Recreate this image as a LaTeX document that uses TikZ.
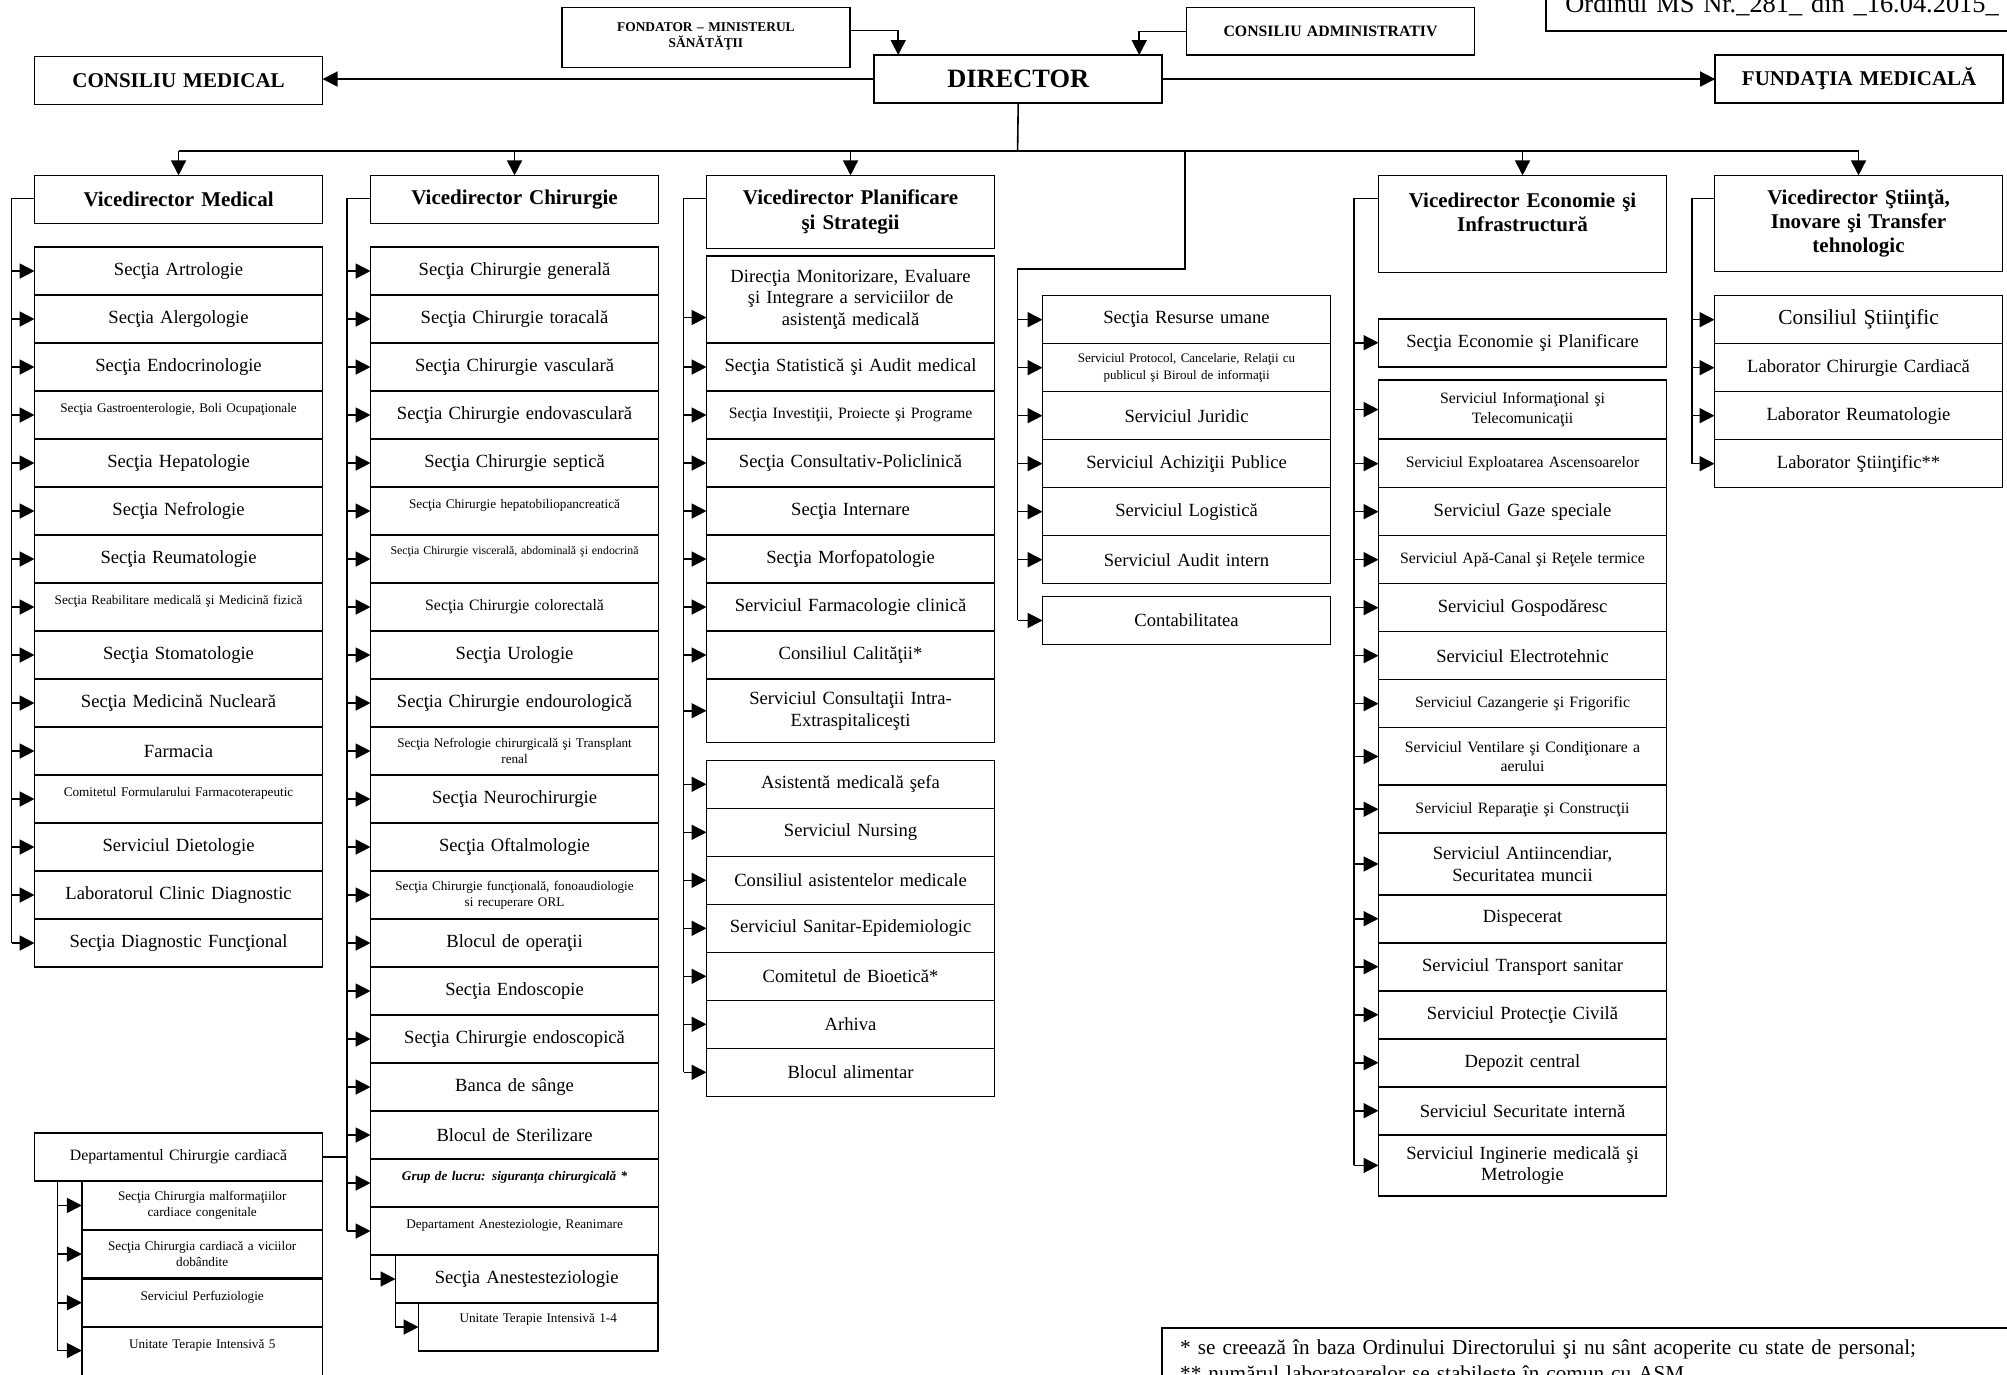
\documentclass[tikz,border=0pt]{standalone}
\usepackage{fontspec}
\setmainfont{Liberation Serif}
\usetikzlibrary{arrows.meta}
\begin{document}
\begin{tikzpicture}[x=0.64pt,y=-0.64pt,>={Triangle[length=7.5pt,width=7.5pt]},conn/.style={line width=.8pt},arr/.style={->,line width=.8pt},cell/.style={draw,line width=.8pt,anchor=north west,outer sep=0pt,inner sep=1pt,align=center,text width=140pt,minimum width=144pt,minimum height=24pt,font=\fontsize{9.3}{10.8}\selectfont},vhead/.style={cell,font=\bfseries\fontsize{10.5}{12.2}\selectfont},topbox/.style={cell,font=\bfseries\fontsize{10.5}{12}\selectfont},midtxt/.style={font=\fontsize{7.9}{9.6}\selectfont},smalltxt/.style={font=\fontsize{6.6}{8}\selectfont,text depth=7pt},tinytxt/.style={font=\fontsize{5.9}{7}\selectfont,text depth=9pt},twotxt/.style={font=\fontsize{6.6}{7.8}\selectfont}]
\useasboundingbox (0,0) rectangle (1568,1074); \fill[white] (0,0) rectangle (1568,1074); \clip (0,0) rectangle (1568,1074);
\node[cell,anchor=south west,align=left,text width=230pt,minimum height=0pt,inner xsep=9.6pt,inner ysep=0pt,text depth=9pt,font=\fontsize{13.2}{15}\selectfont] (ord) at (1208,24) {Ordinul MS Nr.\_281\_ din \_16.04.2015\_};
\node[topbox,font=\bfseries\fontsize{6.7}{8.3}\selectfont,minimum height=30pt,text depth=11pt] (fond) at (439,6) {FONDATOR – MINISTERUL\\SĂNĂTĂŢII};
\node[topbox,font=\bfseries\fontsize{7.9}{9}\selectfont,minimum height=23.7pt] (cadm) at (927,6) {CONSILIU ADMINISTRATIV};
\node[topbox,font=\bfseries\fontsize{13.2}{15}\selectfont] (dir) at (683,43) {DIRECTOR};
\node[topbox] (cmed) at (27,44) {CONSILIU MEDICAL}; \node[topbox] (fund) at (1340,43) {FUNDAŢIA MEDICALĂ};
\draw[arr] (dir.west) -- (dir.west -| cmed.east); \draw[arr] (dir.east) -- (dir.east -| fund.west);
\draw[arr] ([yshift=3.5pt]fond.east) -| ([xshift=12pt]dir.north west); \draw[arr] (cadm.west) -| ([xshift=-11.5pt]dir.north east);
\node[vhead] (vm) at (27,137) {Vicedirector Medical}; \node[vhead] (vc) at (289.5,137) {Vicedirector Chirurgie};
\node[vhead,minimum height=36.5pt] (vp) at (552,137) {Vicedirector Planificare\\şi Strategii};
\node[vhead,minimum height=48.6pt,text depth=24pt] (ve) at (1077,137) {Vicedirector Economie şi\\Infrastructură};
\node[vhead,minimum height=48pt] (vs) at (1339.5,137) {Vicedirector Ştiinţă,\\Inovare şi Transfer\\tehnologic};
\coordinate (bus) at (795,118); \coordinate (b4) at (926,118); \coordinate (l4) at (795,210);
\coordinate (lm) at (9,0); \coordinate (lc) at (271,0); \coordinate (lp) at (534,0); \coordinate (le) at (1058,0); \coordinate (ls) at (1322,0); \coordinate (ld) at (45,0);
\draw[conn] (dir.south) -- (bus); \draw[conn] (vm.north |- bus) -- (vs.north |- bus);
\draw[arr] (vm.north |- bus) -- (vm.north); \draw[arr] (vc.north |- bus) -- (vc.north); \draw[arr] (vp.north |- bus) -- (vp.north); \draw[arr] (ve.north |- bus) -- (ve.north); \draw[arr] (vs.north |- bus) -- (vs.north);
\node[cell] (m1) at (27,193) {Secţia Artrologie}; \draw[arr] (m1.west -| lm) -- (m1.west);
\node[cell] (m2) at (27,230.5) {Secţia Alergologie}; \draw[arr] (m2.west -| lm) -- (m2.west);
\node[cell] (m3) at (27,268) {Secţia Endocrinologie}; \draw[arr] (m3.west -| lm) -- (m3.west);
\node[cell,smalltxt] (m4) at (27,305.5) {Secţia Gastroenterologie, Boli Ocupaţionale}; \draw[arr] (m4.west -| lm) -- (m4.west);
\node[cell] (m5) at (27,343) {Secţia Hepatologie}; \draw[arr] (m5.west -| lm) -- (m5.west);
\node[cell] (m6) at (27,380.5) {Secţia Nefrologie}; \draw[arr] (m6.west -| lm) -- (m6.west);
\node[cell] (m7) at (27,418) {Secţia Reumatologie}; \draw[arr] (m7.west -| lm) -- (m7.west);
\node[cell,smalltxt] (m8) at (27,455.5) {Secţia Reabilitare medicală şi Medicină fizică}; \draw[arr] (m8.west -| lm) -- (m8.west);
\node[cell] (m9) at (27,493) {Secţia Stomatologie}; \draw[arr] (m9.west -| lm) -- (m9.west);
\node[cell] (m10) at (27,530.5) {Secţia Medicină Nucleară}; \draw[arr] (m10.west -| lm) -- (m10.west);
\node[cell] (m11) at (27,568) {Farmacia}; \draw[arr] (m11.west -| lm) -- (m11.west);
\node[cell,smalltxt] (m12) at (27,605.5) {Comitetul Formularului Farmacoterapeutic}; \draw[arr] (m12.west -| lm) -- (m12.west);
\node[cell] (m13) at (27,643) {Serviciul Dietologie}; \draw[arr] (m13.west -| lm) -- (m13.west);
\node[cell] (m14) at (27,680.5) {Laboratorul Clinic Diagnostic}; \draw[arr] (m14.west -| lm) -- (m14.west);
\node[cell] (m15) at (27,718) {Secţia Diagnostic Funcţional}; \draw[arr] (m15.west -| lm) -- (m15.west);
\draw[conn] ([yshift=-11.5pt]vm.north west) -| (m15.west -| lm);
\node[cell] (c1) at (289.5,193) {Secţia Chirurgie generală}; \draw[arr] (c1.west -| lc) -- (c1.west);
\node[cell] (c2) at (289.5,230.5) {Secţia Chirurgie toracală}; \draw[arr] (c2.west -| lc) -- (c2.west);
\node[cell] (c3) at (289.5,268) {Secţia Chirurgie vasculară}; \draw[arr] (c3.west -| lc) -- (c3.west);
\node[cell] (c4) at (289.5,305.5) {Secţia Chirurgie endovasculară}; \draw[arr] (c4.west -| lc) -- (c4.west);
\node[cell] (c5) at (289.5,343) {Secţia Chirurgie septică}; \draw[arr] (c5.west -| lc) -- (c5.west);
\node[cell,smalltxt] (c6) at (289.5,380.5) {Secţia Chirurgie hepatobiliopancreatică}; \draw[arr] (c6.west -| lc) -- (c6.west);
\node[cell,tinytxt] (c7) at (289.5,418) {Secţia Chirurgie viscerală, abdominală şi endocrină}; \draw[arr] (c7.west -| lc) -- (c7.west);
\node[cell,midtxt] (c8) at (289.5,455.5) {Secţia Chirurgie colorectală}; \draw[arr] (c8.west -| lc) -- (c8.west);
\node[cell] (c9) at (289.5,493) {Secţia Urologie}; \draw[arr] (c9.west -| lc) -- (c9.west);
\node[cell] (c10) at (289.5,530.5) {Secţia Chirurgie endourologică}; \draw[arr] (c10.west -| lc) -- (c10.west);
\node[cell,twotxt] (c11) at (289.5,568) {Secţia Nefrologie chirurgicală şi Transplant\\renal}; \draw[arr] (c11.west -| lc) -- (c11.west);
\node[cell] (c12) at (289.5,605.5) {Secţia Neurochirurgie}; \draw[arr] (c12.west -| lc) -- (c12.west);
\node[cell] (c13) at (289.5,643) {Secţia Oftalmologie}; \draw[arr] (c13.west -| lc) -- (c13.west);
\node[cell,twotxt] (c14) at (289.5,680.5) {Secţia Chirurgie funcţională, fonoaudiologie\\si recuperare ORL}; \draw[arr] (c14.west -| lc) -- (c14.west);
\node[cell] (c15) at (289.5,718) {Blocul de operaţii}; \draw[arr] (c15.west -| lc) -- (c15.west);
\node[cell] (c16) at (289.5,755.5) {Secţia Endoscopie}; \draw[arr] (c16.west -| lc) -- (c16.west);
\node[cell] (c17) at (289.5,793) {Secţia Chirurgie endoscopică}; \draw[arr] (c17.west -| lc) -- (c17.west);
\node[cell] (c18) at (289.5,830.5) {Banca de sânge}; \draw[arr] (c18.west -| lc) -- (c18.west);
\node[cell] (c19) at (289.5,868) {Blocul de Sterilizare}; \draw[arr] (c19.west -| lc) -- (c19.west);
\node[cell,smalltxt,font=\bfseries\itshape\fontsize{6.6}{8}\selectfont] (c20) at (289.5,905.5) {Grup de lucru: siguranţa chirurgicală *}; \draw[arr] (c20.west -| lc) -- (c20.west);
\node[cell,smalltxt] (c21) at (289.5,943) {Departament Anesteziologie, Reanimare}; \draw[arr] (c21.west -| lc) -- (c21.west);
\draw[conn] ([yshift=-11.5pt]vc.north west) -| (c21.west -| lc);
\node[cell,text width=127pt,minimum width=131.2pt] (c22) at (309,980.5) {Secţia Anestesteziologie}; \draw[arr] (c21.south west) |- (c22.west);
\node[cell,smalltxt,text depth=9pt,text width=115pt,minimum width=119.7pt] (c23) at (327,1018) {Unitate Terapie Intensivă 1-4}; \draw[arr] (c22.south west) |- (c23.west);
\node[cell,midtxt] (dcc) at (27,885) {Departamentul Chirurgie cardiacă}; \draw[conn] (dcc.east) -- (dcc.east -| lc);
\node[cell,twotxt,text width=116pt,minimum width=120.3pt] (d1) at (64,923) {Secţia Chirurgia malformaţiilor\\cardiace congenitale}; \draw[arr] (d1.west -| ld) -- (d1.west);
\node[cell,twotxt,text width=116pt,minimum width=120.3pt] (d2) at (64,961) {Secţia Chirurgia cardiacă a viciilor\\dobândite}; \draw[arr] (d2.west -| ld) -- (d2.west);
\node[cell,smalltxt,text width=116pt,minimum width=120.3pt] (d3) at (64,999) {Serviciul Perfuziologie}; \draw[arr] (d3.west -| ld) -- (d3.west);
\node[cell,smalltxt,text depth=10pt,text width=116pt,minimum width=120.3pt,minimum height=27pt] (d4) at (64,1037) {Unitate Terapie Intensivă 5}; \draw[arr] ([yshift=1.9pt]d4.west -| ld) -- ([yshift=1.9pt]d4.west);
\draw[conn] (dcc.south -| ld) -- ([yshift=1.9pt]d4.west -| ld);
\node[cell,minimum height=43.5pt] (p1) at (552,200) {Direcţia Monitorizare, Evaluare\\şi Integrare a serviciilor de\\asistenţă medicală}; \draw[arr] ([yshift=-9pt]p1.west -| lp) -- ([yshift=-9pt]p1.west);
\node[cell] (p2) at (552,268) {Secţia Statistică şi Audit medical}; \draw[arr] (p2.west -| lp) -- (p2.west);
\node[cell,midtxt] (p3) at (552,305.5) {Secţia Investiţii, Proiecte şi Programe}; \draw[arr] (p3.west -| lp) -- (p3.west);
\node[cell] (p4) at (552,343) {Secţia Consultativ-Policlinică}; \draw[arr] (p4.west -| lp) -- (p4.west);
\node[cell] (p5) at (552,380.5) {Secţia Internare}; \draw[arr] (p5.west -| lp) -- (p5.west);
\node[cell] (p6) at (552,418) {Secţia Morfopatologie}; \draw[arr] (p6.west -| lp) -- (p6.west);
\node[cell] (p7) at (552,455.5) {Serviciul Farmacologie clinică}; \draw[arr] (p7.west -| lp) -- (p7.west);
\node[cell] (p8) at (552,493) {Consiliul Calităţii*}; \draw[arr] (p8.west -| lp) -- (p8.west);
\node[cell,minimum height=31.7pt] (p9) at (552,530.5) {Serviciul Consultaţii Intra-\\Extraspitaliceşti}; \draw[arr] (p9.west -| lp) -- (p9.west);
\node[cell] (p10) at (552,594) {Asistentă medicală şefa}; \draw[arr] (p10.west -| lp) -- (p10.west);
\node[cell] (p11) at (552,631.5) {Serviciul Nursing}; \draw[arr] (p11.west -| lp) -- (p11.west);
\node[cell] (p12) at (552,669) {Consiliul asistentelor medicale}; \draw[arr] (p12.west -| lp) -- (p12.west);
\node[cell] (p13) at (552,706.5) {Serviciul Sanitar-Epidemiologic}; \draw[arr] (p13.west -| lp) -- (p13.west);
\node[cell] (p14) at (552,744) {Comitetul de Bioetică*}; \draw[arr] (p14.west -| lp) -- (p14.west);
\node[cell] (p15) at (552,781.5) {Arhiva}; \draw[arr] (p15.west -| lp) -- (p15.west);
\node[cell] (p16) at (552,819) {Blocul alimentar}; \draw[arr] (p16.west -| lp) -- (p16.west);
\draw[conn] ([yshift=-11.5pt]vp.north west) -| (p16.west -| lp);
\node[cell] (r1) at (814.5,231) {Secţia Resurse umane}; \draw[arr] (r1.west -| l4) -- (r1.west);
\node[cell,font=\fontsize{6.5}{8.3}\selectfont] (r2) at (814.5,268.5) {Serviciul Protocol, Cancelarie, Relaţii cu\\publicul şi Biroul de informaţii}; \draw[arr] (r2.west -| l4) -- (r2.west);
\node[cell] (r3) at (814.5,306) {Serviciul Juridic}; \draw[arr] (r3.west -| l4) -- (r3.west);
\node[cell] (r4) at (814.5,343.5) {Serviciul Achiziţii Publice}; \draw[arr] (r4.west -| l4) -- (r4.west);
\node[cell] (r5) at (814.5,381) {Serviciul Logistică}; \draw[arr] (r5.west -| l4) -- (r5.west);
\node[cell] (r6) at (814.5,418.5) {Serviciul Audit intern}; \draw[arr] (r6.west -| l4) -- (r6.west);
\node[cell] (r7) at (814.5,466) {Contabilitatea}; \draw[arr] (r7.west -| l4) -- (r7.west);
\draw[conn] (b4) |- (l4) -- (r7.west -| l4);
\node[cell] (e1) at (1077,249) {Secţia Economie şi Planificare}; \draw[arr] (e1.west -| le) -- (e1.west);
\node[cell,midtxt,minimum height=29.4pt] (e2) at (1077,297) {Serviciul Informaţional şi\\Telecomunicaţii}; \draw[arr] (e2.west -| le) -- (e2.west);
\node[cell,midtxt] (e3) at (1077,343.5) {Serviciul Exploatarea Ascensoarelor}; \draw[arr] (e3.west -| le) -- (e3.west);
\node[cell] (e4) at (1077,381) {Serviciul Gaze speciale}; \draw[arr] (e4.west -| le) -- (e4.west);
\node[cell,midtxt] (e5) at (1077,418.5) {Serviciul Apă-Canal şi Reţele termice}; \draw[arr] (e5.west -| le) -- (e5.west);
\node[cell] (e6) at (1077,456) {Serviciul Gospodăresc}; \draw[arr] (e6.west -| le) -- (e6.west);
\node[cell] (e7) at (1077,493.5) {Serviciul Electrotehnic}; \draw[arr] (e7.west -| le) -- (e7.west);
\node[cell,midtxt] (e8) at (1077,531) {Serviciul Cazangerie şi Frigorific}; \draw[arr] (e8.west -| le) -- (e8.west);
\node[cell,midtxt,minimum height=28.8pt] (e9) at (1077,568.5) {Serviciul Ventilare şi Condiţionare a\\aerului}; \draw[arr] (e9.west -| le) -- (e9.west);
\node[cell,midtxt] (e10) at (1077,613.5) {Serviciul Reparaţie şi Construcţii}; \draw[arr] (e10.west -| le) -- (e10.west);
\node[cell,minimum height=30.7pt] (e11) at (1077,651) {Serviciul Antiincendiar,\\Securitatea muncii}; \draw[arr] (e11.west -| le) -- (e11.west);
\node[cell] (e12) at (1077,699) {Dispecerat}; \draw[arr] (e12.west -| le) -- (e12.west);
\node[cell] (e13) at (1077,736.5) {Serviciul Transport sanitar}; \draw[arr] (e13.west -| le) -- (e13.west);
\node[cell] (e14) at (1077,774) {Serviciul Protecţie Civilă}; \draw[arr] (e14.west -| le) -- (e14.west);
\node[cell] (e15) at (1077,811.5) {Depozit central}; \draw[arr] (e15.west -| le) -- (e15.west);
\node[cell] (e16) at (1077,849) {Serviciul Securitate internă}; \draw[arr] (e16.west -| le) -- (e16.west);
\node[cell,minimum height=30.7pt] (e17) at (1077,886.5) {Serviciul Inginerie medicală şi\\Metrologie}; \draw[arr] (e17.west -| le) -- (e17.west);
\draw[conn] ([yshift=-11.5pt]ve.north west) -| (e17.west -| le);
\node[cell,font=\fontsize{10.7}{12}\selectfont] (s1) at (1339.5,231) {Consiliul Ştiinţific}; \draw[arr] (s1.west -| ls) -- (s1.west);
\node[cell] (s2) at (1339.5,268.5) {Laborator Chirurgie Cardiacă}; \draw[arr] (s2.west -| ls) -- (s2.west);
\node[cell] (s3) at (1339.5,306) {Laborator Reumatologie}; \draw[arr] (s3.west -| ls) -- (s3.west);
\node[cell] (s4) at (1339.5,343.5) {Laborator Ştiinţific**}; \draw[arr] (s4.west -| ls) -- (s4.west);
\draw[conn] ([yshift=-11.5pt]vs.north west) -| (s4.west -| ls);
\node[cell,align=left,text width=440pt,inner xsep=9pt,inner ysep=6pt,font=\fontsize{10.6}{13}\selectfont] (note) at (908,1037.5) {* se creează în baza Ordinului Directorului şi nu sânt acoperite cu state de personal;\\\relax** numărul laboratoarelor se stabileşte în comun cu AŞM};
\end{tikzpicture}
\end{document}
